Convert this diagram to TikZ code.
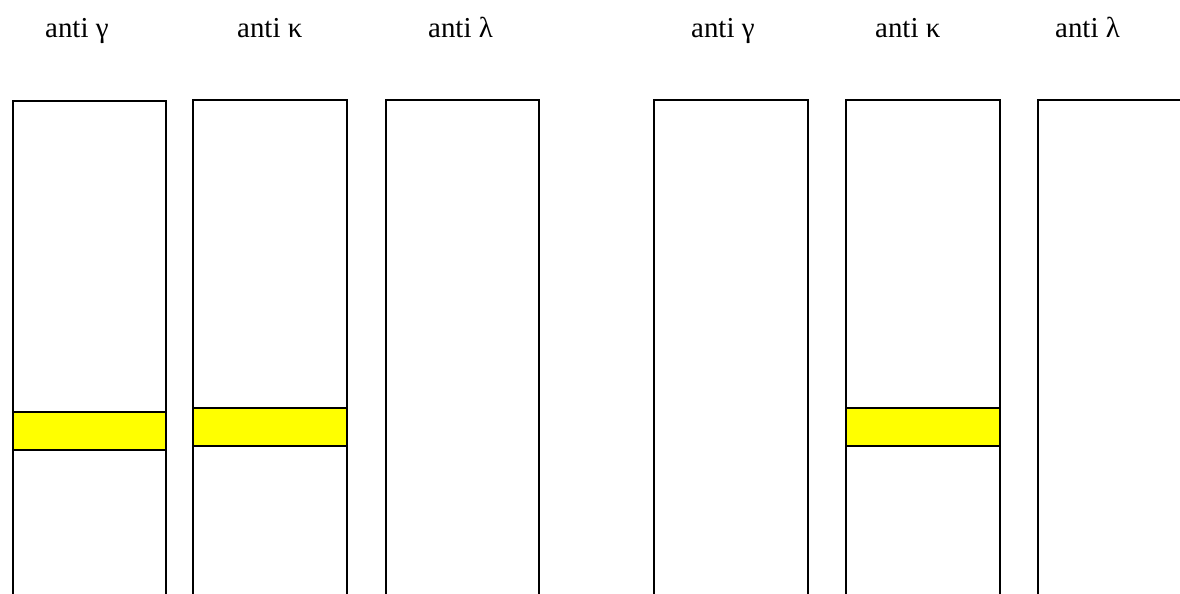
\documentclass[tikz,border=0pt]{standalone}
\usepackage{fontspec}
\setmainfont{Liberation Serif}
\definecolor{bandyellow}{RGB}{255,255,0}
\begin{document}
\begin{tikzpicture}[x=1bp,y=-1bp,
  lane/.style={draw=black,line width=1.6bp},
  band/.style={draw=black,line width=1.6bp,fill=bandyellow},
  lbl/.style={anchor=base west,inner sep=0pt,font=\fontsize{29}{32}\selectfont}]
\useasboundingbox (0,0) rectangle (1180,594);
% lane labels
\node[lbl] (l1) at (45,38) {anti γ};
\node[lbl] (l2) at (237,38) {anti κ};
\node[lbl] (l3) at (428,38) {anti λ};
\node[lbl] (r1) at (691,38) {anti γ};
\node[lbl] (r2) at (875,38) {anti κ};
\node[lbl] (r3) at (1055,38) {anti λ};
% bands
\draw[band] (13,412) rectangle (166,450);
\draw[band] (193,408) rectangle (347,446);
\draw[band] (846,408) rectangle (1000,446);
% open-bottom lanes
\draw[lane] (13,600) -- (13,101) -- (166,101) -- (166,600);
\draw[lane] (193,600) -- (193,100) -- (347,100) -- (347,600);
\draw[lane] (386,600) -- (386,100) -- (539,100) -- (539,600);
\draw[lane] (654,600) -- (654,100) -- (808,100) -- (808,600);
\draw[lane] (846,600) -- (846,100) -- (1000,100) -- (1000,600);
\draw[lane] (1038,600) -- (1038,100) -- (1190,100);
\end{tikzpicture}
\end{document}
